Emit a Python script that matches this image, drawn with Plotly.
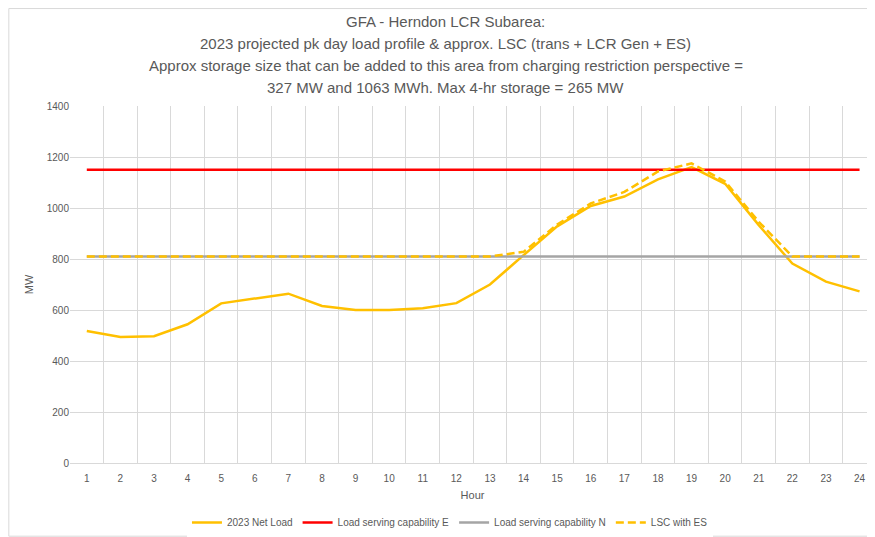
import plotly.graph_objects as go

hours = list(range(1, 25))
net_load = [518, 494, 497, 544, 626, 646, 664, 616, 600, 600, 607, 627,
            700, 815, 928, 1008, 1045, 1112, 1160, 1095, 933, 782, 711, 673]
lsc_e = [1150] * 24
lsc_n = [810] * 24
lsc_es = [810, 810, 810, 810, 810, 810, 810, 810, 810, 810, 810, 810,
          810, 828, 935, 1018, 1063, 1143, 1175, 1104, 946, 810, 810, 810]
y_ticks = [0, 200, 400, 600, 800, 1000, 1200, 1400]

title_lines = [
    "GFA - Herndon LCR Subarea:",
    "2023 projected pk day load profile & approx. LSC (trans + LCR Gen + ES)",
    "Approx storage size that can be added to this area from charging restriction perspective =",
    "327 MW and 1063 MWh. Max 4-hr storage = 265 MW",
]

FONT = "Liberation Sans, Arial, sans-serif"
GOLD = "#FFC000"
GREY_TXT = "#595959"

fig = go.Figure()
fig.add_trace(go.Scatter(x=hours, y=net_load, name="2023 Net Load", mode="lines",
                         line=dict(color=GOLD, width=2.5)))
fig.add_trace(go.Scatter(x=hours, y=lsc_e, name="Load serving capability E", mode="lines",
                         line=dict(color="#FF0000", width=2.5)))
fig.add_trace(go.Scatter(x=hours, y=lsc_n, name="Load serving capability N", mode="lines",
                         line=dict(color="#A5A5A5", width=2.5)))
fig.add_trace(go.Scatter(x=hours, y=lsc_es, name="LSC with ES", mode="lines",
                         line=dict(color=GOLD, width=2.5, dash="8px,4px")))

# title as separate lines (Excel spacing is looser than plotly's)
for i, line in enumerate(title_lines):
    fig.add_annotation(text=line, xref="paper", yref="paper", x=0.467,
                       y=1.238 - i * 0.0616, xanchor="center", yanchor="middle",
                       showarrow=False, font=dict(family=FONT, size=15, color=GREY_TXT))

# chart border on left/top/bottom (page body has an 8px margin, figure is 8px smaller)
fig.add_shape(type="path", xref="paper", yref="paper",
              path="M 1.2,1.273 L -0.076,1.273 L -0.076,-0.205 L 1.2,-0.205",
              line=dict(color="#D9D9D9", width=1))

fig.update_layout(
    width=867, height=529,
    margin=dict(l=62, r=0, t=98, b=74),
    plot_bgcolor="white", paper_bgcolor="white",
    font=dict(family=FONT, color=GREY_TXT, size=10),
    showlegend=True,
    legend=dict(orientation="h", x=0.472, xanchor="center", y=-0.168, yanchor="middle",
                font=dict(size=10, color=GREY_TXT), traceorder="normal"),
)
fig.update_xaxes(
    range=[0.5, 24.46], tickvals=hours, showgrid=False, ticks="",
    showline=True, linecolor="#D9D9D9", linewidth=1, ticklabelstandoff=6,
    minor=dict(tick0=0.5, dtick=1, showgrid=True, gridcolor="#D9D9D9", gridwidth=1),
    title=dict(text="Hour", font=dict(size=11), standoff=8),
    tickfont=dict(size=10),
)
fig.update_yaxes(
    range=[0, 1400], tickvals=y_ticks, showgrid=True, gridcolor="#D9D9D9",
    zeroline=False, ticks="",
    title=dict(text="MW", font=dict(size=11), standoff=10),
    tickfont=dict(size=10),
)

fig.write_html("out.html")
